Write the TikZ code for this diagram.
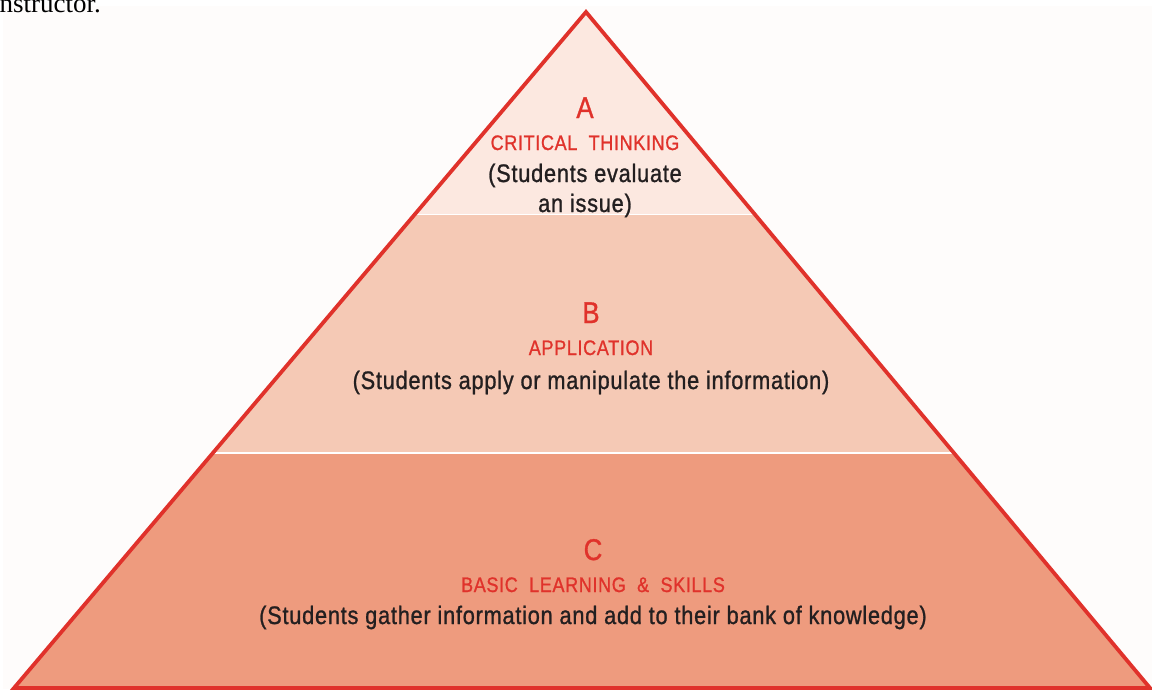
\documentclass[tikz,border=0pt]{standalone}
\usepackage{fontspec}
\setmainfont{Liberation Sans}[FakeStretch=0.86, FakeBold=1, LetterSpace=3]
\newfontfamily\pageserif{Liberation Serif}
\usepackage{tikz}
\usetikzlibrary{calc}
\definecolor{pyrline}{HTML}{E0322B}
\definecolor{pyrtext}{HTML}{231F20}
\definecolor{bandA}{HTML}{FCE8E0}
\definecolor{bandB}{HTML}{F5C9B5}
\definecolor{bandC}{HTML}{EE9B7E}
\definecolor{pagebg}{HTML}{FEFCFB}

\begin{document}
\begin{tikzpicture}[x=1pt, y=-1pt,
  letter/.style={text=pyrline, inner sep=0pt, anchor=base, font=\fontsize{30}{30}\selectfont},
  level/.style={text=pyrline, inner sep=0pt, anchor=base, font=\fontsize{21}{21}\selectfont},
  note/.style={text=pyrtext, inner sep=0pt, anchor=base, font=\fontsize{25.3}{30}\selectfont}]
\newcommand{\wid}{1152}
\newcommand{\hei}{689}
\pgfmathsetmacro{\cutAB}{(214-12)/676}
\pgfmathsetmacro{\cutBC}{(453-12)/676}
\useasboundingbox (0, 0) rectangle (\wid, \hei);
\fill[white] (0, 0) rectangle (\wid, \hei);
\fill[pagebg] (3, 6) rectangle (\wid, \hei);
\node[anchor=base west, inner sep=0pt, font=\pageserif\fontsize{27}{27}\selectfont] (prev) at (-8, 12) {instructor.};
\coordinate (apex) at (586, 12);
\coordinate (left) at (14, 688);
\coordinate (right) at (1150, 688);
\coordinate (abL) at ($(apex)!\cutAB!(left)$);
\coordinate (abR) at ($(apex)!\cutAB!(right)$);
\coordinate (bcL) at ($(apex)!\cutBC!(left)$);
\coordinate (bcR) at ($(apex)!\cutBC!(right)$);
%% the three bands
\fill[bandA] (apex) -- (abR) -- (abL) -- cycle;
\fill[bandB] (abL) -- (abR) -- (bcR) -- (bcL) -- cycle;
\fill[bandC] (bcL) -- (bcR) -- (right) -- (left) -- cycle;
\draw[white, line width=0.8] (abL) -- (abR);
\draw[white, line width=2] (bcL) -- (bcR);
\draw[pyrline, line width=3.8, line join=miter] (apex) -- (right) -- (left) -- cycle;
%% labels
\node[letter] (letA) at (585, 118) {A};
\node[level] (lvlA) at (585, 150) {CRITICAL\ \ THINKING};
\node[note] (noteA) at (585, 182) {(Students evaluate};
\node[note] (noteA2) at (585, 212) {an issue)};
\node[letter] (letB) at (591, 323) {B};
\node[level] (lvlB) at (591, 355) {APPLICATION};
\node[note] (noteB) at (591, 389) {(Students apply or manipulate the information)};
\node[letter] (letC) at (593, 560) {C};
\node[level] (lvlC) at (593, 592) {BASIC\ \ LEARNING\ \ \&\ \ SKILLS};
\node[note] (noteC) at (593, 624) {(Students gather information and add to their bank of knowledge)};
\end{tikzpicture}
\end{document}
